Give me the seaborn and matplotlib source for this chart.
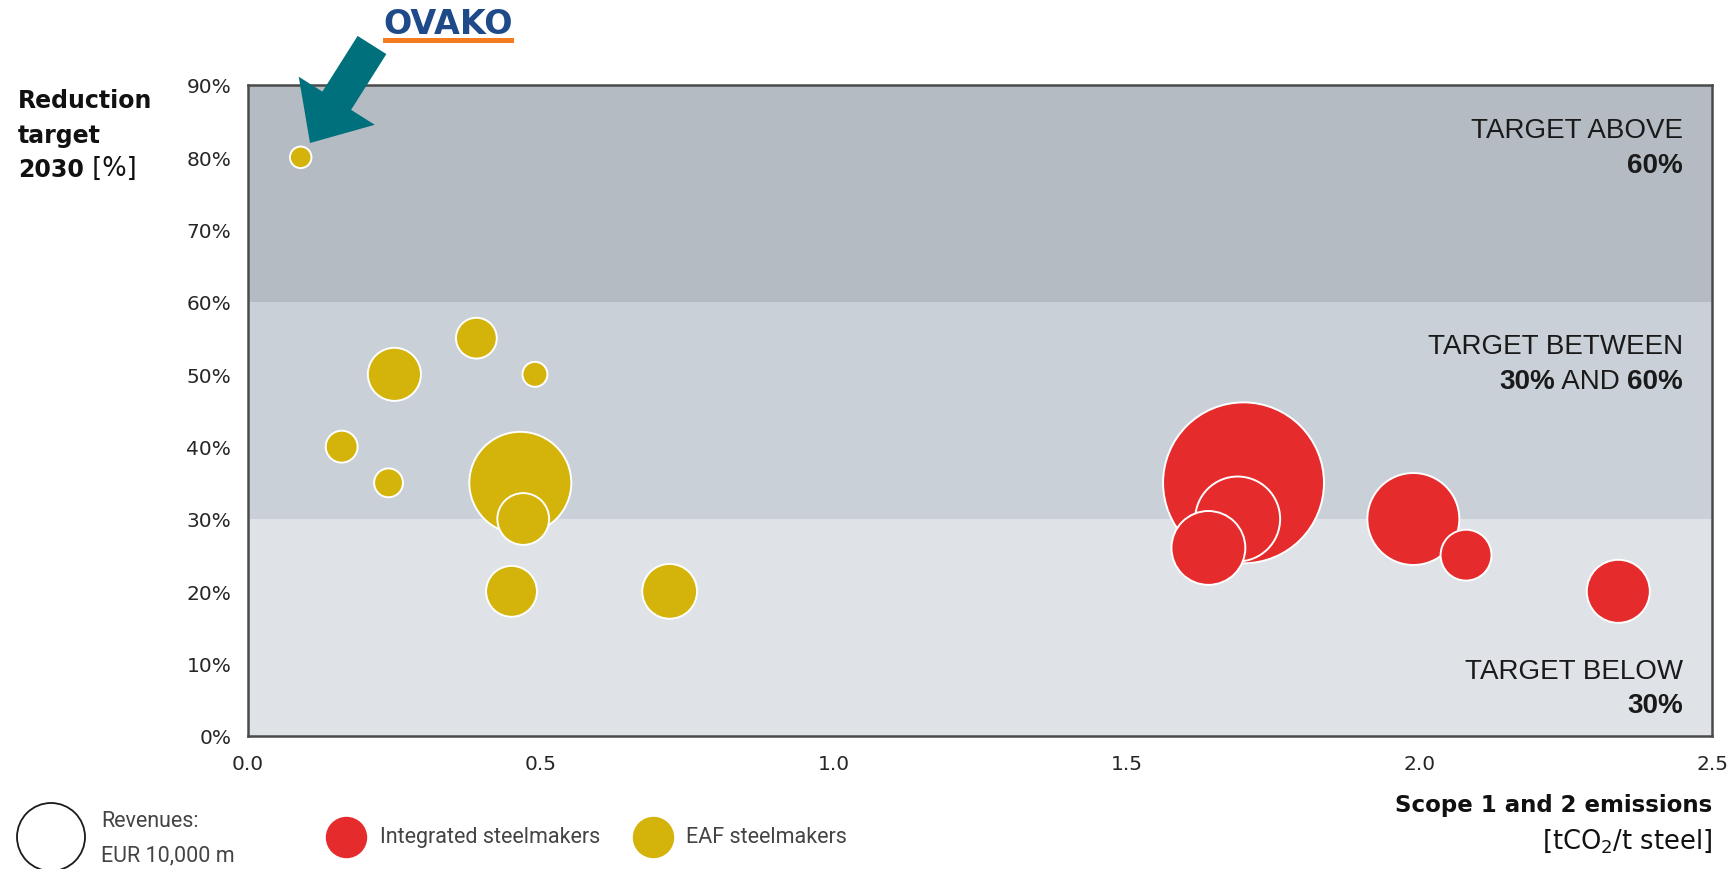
import matplotlib
matplotlib.use("Agg")
import matplotlib.pyplot as plt
from matplotlib.patches import Polygon, Rectangle
import numpy as np
import pandas as pd
import seaborn as sns

# ---- data -------------------------------------------------------------
# EAF steelmakers (first entry is Ovako)
eaf_emissions = [0.09, 0.39, 0.25, 0.49, 0.16, 0.24, 0.465, 0.47, 0.45, 0.72]
eaf_target = [80, 55, 50, 50, 40, 35, 35, 30, 20, 20]
eaf_revenue = [1000, 3600, 6100, 1350, 2200, 1800, 22500, 5800, 5600, 6500]

# Integrated steelmakers
int_emissions = [1.70, 1.69, 1.64, 1.99, 2.08, 2.34]
int_target = [35, 30, 26, 30, 25, 20]
int_revenue = [56000, 15600, 11800, 18300, 5600, 8600]

legend_revenue = 10000  # EUR m shown by the hollow reference circle

y_ticks = [0, 10, 20, 30, 40, 50, 60, 70, 80, 90]
x_ticks = [0.0, 0.5, 1.0, 1.5, 2.0, 2.5]

bands = [(0, 30, "#dfe2e6"), (30, 60, "#c9d0d7"), (60, 90, "#b4bbc3")]

RED = "#e62b2d"
YELLOW = "#d4b30a"
TEAL = "#00707c"

# ---- figure -----------------------------------------------------------
W, H = 1735, 870
sns.set_style("white")
plt.rcParams["font.family"] = ["DejaVu Sans"]

fig = plt.figure(figsize=(W / 100, H / 100), dpi=100)
ax = fig.add_axes([248 / W, 1 - 737 / H, (1712 - 248) / W, (737 - 86) / H])


def fpx(x, y):
    """figure-pixel (from top-left) to figure fraction"""
    return x / W, 1 - y / H


# bubble area in pt^2 proportional to revenue
AREA_PER_MEUR = (68 * 0.72) ** 2 / 10000.0


def bubble_area(rev):
    return AREA_PER_MEUR * rev


for lo, hi, col in bands:
    ax.axhspan(lo, hi, color=col, zorder=0, lw=0)

df = pd.DataFrame({
    "emissions": eaf_emissions + int_emissions,
    "target": eaf_target + int_target,
    "revenue": eaf_revenue + int_revenue,
    "type": ["EAF steelmakers"] * len(eaf_emissions)
            + ["Integrated steelmakers"] * len(int_emissions),
}).sort_values("revenue", ascending=False)

size_max = 60000
sns.scatterplot(
    data=df, x="emissions", y="target", hue="type", size="revenue",
    sizes=(0, bubble_area(size_max)), size_norm=(0, size_max),
    palette={"EAF steelmakers": YELLOW, "Integrated steelmakers": RED},
    edgecolor="white", linewidth=1.4, alpha=1, legend=False, ax=ax, zorder=3,
)

ax.set_xlim(0, 2.5)
ax.set_ylim(0, 90)
ax.set_xticks(x_ticks)
ax.set_xticklabels([f"{v:.1f}" for v in x_ticks])
ax.set_yticks(y_ticks)
ax.set_yticklabels([f"{v}%" for v in y_ticks])
ax.tick_params(axis="both", length=0, labelsize=14.5, colors="#262626")
ax.tick_params(axis="y", pad=12)
ax.tick_params(axis="x", pad=13)
ax.set_xlabel("")
ax.set_ylabel("")
for sp in ax.spines.values():
    sp.set_visible(True)
    sp.set_color("#4a4a4a")
    sp.set_linewidth(1.8)
ax.grid(False)


def chain_right(x, y, parts, family):
    """right-aligned line made of (text, weight, size) pieces, baseline at y"""
    prev = None
    for text, weight, size in reversed(parts):
        if prev is None:
            prev = fig.text(*fpx(x, y), text, ha="right", va="baseline",
                            fontsize=size, fontweight=weight, family=family,
                            color="#1a1a1a")
        else:
            prev = ax.annotate(text, xy=(0, 0), xycoords=prev, ha="right",
                               va="bottom", fontsize=size, fontweight=weight,
                               family=family, color="#1a1a1a",
                               annotation_clip=False)


def chain_left(x, y, parts, family):
    prev = None
    for text, weight, size in parts:
        if prev is None:
            prev = fig.text(*fpx(x, y), text, ha="left", va="baseline",
                            fontsize=size, fontweight=weight, family=family,
                            color="#111111")
        else:
            prev = ax.annotate(text, xy=(1, 0), xycoords=prev, ha="left",
                               va="bottom", fontsize=size, fontweight=weight,
                               family=family, color="#111111",
                               annotation_clip=False)


# zone labels
zf = ["Liberation Sans", "DejaVu Sans"]
zs = 20
chain_right(1683, 138, [("TARGET ABOVE", "normal", zs)], zf)
chain_right(1683, 173, [("60%", "bold", zs)], zf)
chain_right(1683, 354, [("TARGET BETWEEN", "normal", zs)], zf)
chain_right(1683, 389, [("30%", "bold", zs), (" AND ", "normal", zs),
                        ("60%", "bold", zs)], zf)
chain_right(1683, 679, [("TARGET BELOW", "normal", zs)], zf)
chain_right(1683, 713, [("30%", "bold", zs)], zf)

# axis titles
yf = ["DejaVu Sans"]
chain_left(18, 108, [("Reduction", "bold", 17)], yf)
chain_left(18, 143, [("target", "bold", 17)], yf)
chain_left(18, 177, [("2030", "bold", 17), (" [%]", "normal", 18.5)], yf)

fig.text(*fpx(1712, 812), "Scope 1 and 2 emissions", ha="right", va="baseline",
         fontsize=16.5, fontweight="bold", color="#111111")
fig.text(*fpx(1712, 849), "[tCO$_2$/t steel]", ha="right", va="baseline",
         fontsize=18.5, color="#111111")

# Ovako callout: logo and arrow
fig.text(*fpx(448, 34), "OVAKO", ha="center", va="baseline", fontsize=24,
         fontweight="heavy", color="#1f4a8a")
fig.patches.append(Rectangle(fpx(383, 44), (514 - 383) / W, 5 / H,
                             transform=fig.transFigure, color="#f47b20",
                             lw=0))

tip = np.array([310.0, 144.0])
tail = np.array([372.0, 46.0])
u = (tip - tail) / np.linalg.norm(tip - tail)
n = np.array([-u[1], u[0]])
shaft_w, head_w, head_l = 34.0, 90.0, 50.0
base = tip - u * head_l
pts_px = [tail + n * shaft_w / 2, base + n * shaft_w / 2, base + n * head_w / 2,
          tip, base - n * head_w / 2, base - n * shaft_w / 2,
          tail - n * shaft_w / 2]
fig.patches.append(Polygon([fpx(*p) for p in pts_px], closed=True,
                           transform=fig.transFigure, color=TEAL, lw=0,
                           zorder=5))

# legend strip along the bottom
lax = fig.add_axes([0, 0, 1, (H - 780) / H])
lax.set_xlim(0, W)
lax.set_ylim(H, 780)
lax.axis("off")
lax.scatter([51], [838], s=bubble_area(legend_revenue), facecolor="none",
            edgecolor="#1a1a1a", linewidth=1.3, clip_on=False)
lax.scatter([346], [838], s=(40 * 0.72) ** 2, color=RED, clip_on=False)
lax.scatter([653], [838], s=(40 * 0.72) ** 2, color=YELLOW, clip_on=False)
leg_font = ["Roboto", "DejaVu Sans"]
ls = 15.5
lax.text(101, 822, "Revenues:", ha="left", va="center", fontsize=ls,
         family=leg_font, color="#444444")
lax.text(101, 856, "EUR 10,000 m", ha="left", va="center", fontsize=ls,
         family=leg_font, color="#444444")
lax.text(380, 838, "Integrated steelmakers", ha="left", va="center",
         fontsize=ls, family=leg_font, color="#444444")
lax.text(686, 838, "EAF steelmakers", ha="left", va="center", fontsize=ls,
         family=leg_font, color="#444444")

fig.savefig("out.png", dpi=100, facecolor="white")
